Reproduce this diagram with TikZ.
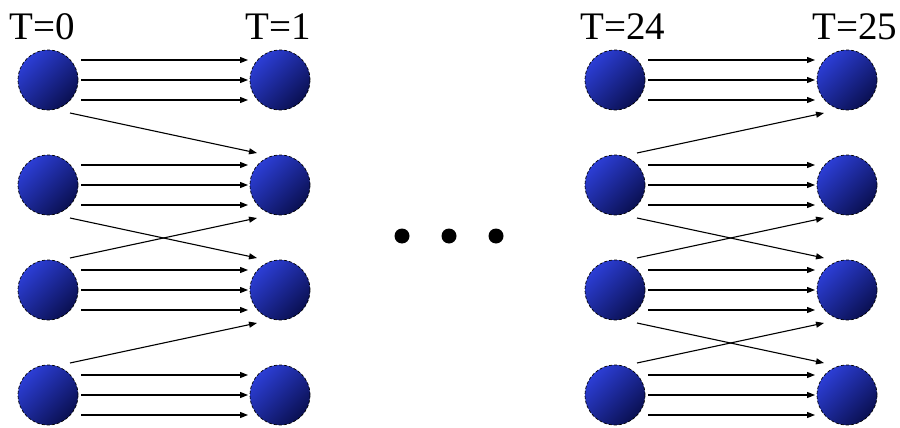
\documentclass[tikz,border=0pt]{standalone}
\usepackage{fontspec}
\newfontfamily\stampfont{Liberation Serif}
\usetikzlibrary{arrows.meta,calc}
\definecolor{ballLight}{RGB}{44,62,214}
\definecolor{ballDark}{RGB}{10,16,82}
\begin{document}
\begin{tikzpicture}[x=1pt,y=-1pt,
  ball/.style={circle, minimum size=60pt, inner sep=0pt,
    shading=axis, top color=ballLight, bottom color=ballDark, shading angle=45,
    draw=black, densely dashed, line width=0.7pt},
  link/.style={line width=1.1pt, -{Triangle[length=8pt,width=6pt]}},
  stamp/.style={anchor=base west, inner sep=0pt, font=\stampfont\fontsize{39}{46}\selectfont}]
\useasboundingbox (0,0) rectangle (900,428);

% time labels
\node[stamp] (t0)  at (9,40)   {T=0};
\node[stamp] (t1)  at (245,40) {T=1};
\node[stamp] (t24) at (580,40) {T=24};
\node[stamp] (t25) at (812,40) {T=25};

% four states in each of the four time columns
\foreach \r/\y in {1/80,2/185,3/290,4/395} {
  \node[ball] (L\r) at (48,\y)  {};
  \node[ball] (R\r) at (280,\y) {};
  \node[ball] (P\r) at (615,\y) {};
  \node[ball] (Q\r) at (847,\y) {};
}

% three parallel transitions between equal states
\foreach \r in {1,2,3,4} {
  \foreach \d in {-20,0,20} {
    \draw[link] ($(L\r)+(33,\d)$) -- ($(R\r)+(-32,\d)$);
    \draw[link] ($(P\r)+(33,\d)$) -- ($(Q\r)+(-32,\d)$);
  }
}

% crossing transitions, first step
\draw[link] ($(L1)+(22,33)$) -- ($(R2)+(-23,-32)$);
\draw[link] ($(L2)+(22,33)$) -- ($(R3)+(-23,-32)$);
\draw[link] ($(L3)+(22,-32)$) -- ($(R2)+(-23,33)$);
\draw[link] ($(L4)+(22,-32)$) -- ($(R3)+(-23,33)$);

% crossing transitions, last step
\draw[link] ($(P2)+(22,-32)$) -- ($(Q1)+(-23,33)$);
\draw[link] ($(P2)+(22,33)$) -- ($(Q3)+(-23,-32)$);
\draw[link] ($(P3)+(22,-32)$) -- ($(Q2)+(-23,33)$);
\draw[link] ($(P3)+(22,33)$) -- ($(Q4)+(-23,-32)$);
\draw[link] ($(P4)+(22,-32)$) -- ($(Q3)+(-23,33)$);

% ellipsis between the columns
\foreach \x in {402,449,496}
  \fill (\x,236) circle (7.5pt);
\end{tikzpicture}
\end{document}
